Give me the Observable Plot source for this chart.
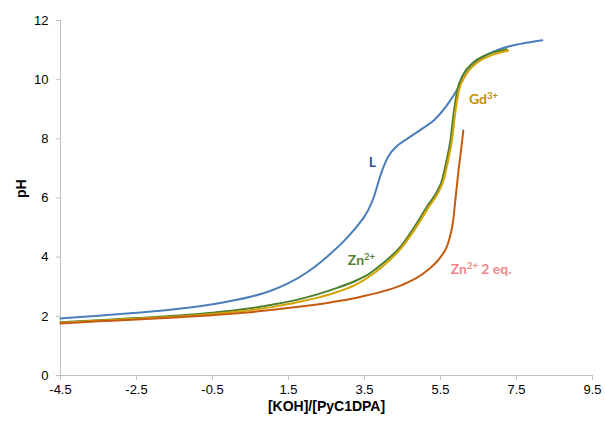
<!DOCTYPE html>
<html>
<head>
<meta charset="utf-8">
<script src="https://cdn.jsdelivr.net/npm/d3@7"></script>
<script src="https://cdn.jsdelivr.net/npm/@observablehq/plot@0.6"></script>
<style>
  html, body { margin: 0; padding: 0; background: #fff; }
</style>
</head>
<body>
<div id="chart"></div>
<script>
// ---- Data ----
const xL  = [-4.5,-3.5,-2.5,-1.5,-0.5,0.5,1.0,1.5,2.0,2.5,3.0,3.4,3.5,3.6,3.75,3.88,4.0,4.15,4.35,4.62,5.0,5.32,5.76,6.03,6.2,6.55,7.08,7.61,8.18];
const yL  = [1.93,2.02,2.12,2.24,2.41,2.66,2.85,3.12,3.5,4.0,4.6,5.2,5.38,5.6,6.05,6.6,7.05,7.45,7.75,8.0,8.33,8.62,9.30,9.86,10.25,10.7,11.04,11.21,11.33];

const xZn = [-4.5,-3.5,-2.5,-1.5,-0.5,0.5,1.1,1.82,2.3,2.8,3.3,3.6,3.99,4.45,4.9,5.15,5.41,5.54,5.66,5.76,5.84,5.94,6.11,6.37,6.73,7.24];
const yZn = [1.80,1.87,1.94,2.02,2.12,2.27,2.4,2.59,2.76,2.97,3.22,3.42,3.8,4.36,5.2,5.72,6.22,6.6,7.27,7.94,8.8,9.63,10.2,10.59,10.85,11.03];

const xGd = [-4.5,-3.5,-2.5,-1.5,-0.5,0.5,1.1,1.82,2.3,2.8,3.3,3.6,3.99,4.45,4.93,5.19,5.45,5.58,5.7,5.8,5.88,5.98,6.15,6.41,6.77,7.28];
const yGd = [1.78,1.85,1.92,1.99,2.08,2.21,2.32,2.5,2.64,2.83,3.09,3.32,3.7,4.28,5.15,5.7,6.2,6.6,7.27,7.94,8.8,9.6,10.13,10.52,10.79,10.98];

const xZn2 = [-4.5,-3.5,-2.5,-1.5,-0.5,0.5,1.1,1.82,2.6,3.2,3.57,4.05,4.45,4.85,5.15,5.5,5.68,5.78,5.84,5.88,5.93,5.98,6.04,6.1];
const yZn2 = [1.76,1.83,1.89,1.96,2.04,2.14,2.22,2.33,2.47,2.6,2.71,2.87,3.04,3.28,3.55,4.0,4.4,4.85,5.3,5.8,6.4,7.0,7.6,8.28];

const xTicks = [-4.5,-2.5,-0.5,1.5,3.5,5.5,7.5,9.5];
const yTicks = [0,2,4,6,8,10,12];

const seriesNames  = ["L","Zn2","Gd","Zn2x2"];
const seriesColors = ["#4A7EBB","#4E7F2E","#D4A300","#C55A11"];

const labelBase  = ["L","Gd","Zn","Zn"];
const labelSup   = ["","3+","2+","2+"];
const labelTail  = ["","",""," 2 eq."];
const labelX     = [3.71,6.63,3.42,6.57];
const labelY     = [7.2,9.33,3.89,3.58];
const labelColor = ["#2F5597","#BF9000","#538135","#F4868C"];

// ---- Build tables ----
const toRows = (name, xs, ys) => xs.map((x, i) => ({series: name, x, y: ys[i]}));
const rows = [
  ...toRows("L", xL, yL),
  ...toRows("Zn2", xZn, yZn),
  ...toRows("Gd", xGd, yGd),
  ...toRows("Zn2x2", xZn2, yZn2)
];
const labels = labelBase.map((b, i) => ({t: b + labelSup[i] + labelTail[i], b, s: labelSup[i], tail: labelTail[i], x: labelX[i], y: labelY[i], c: labelColor[i]}));

const chart = Plot.plot({
  width: 605,
  height: 421,
  marginLeft: 60,
  marginRight: 13,
  marginTop: 20,
  marginBottom: 46,
  style: {fontFamily: "'Liberation Sans', Arial, sans-serif", fontSize: "13px", background: "#fff", color: "#000"},
  x: {domain: [-4.5, 9.5]},
  y: {domain: [0, 12]},
  color: {domain: seriesNames, range: seriesColors},
  marks: [
    Plot.ruleX([-4.5], {stroke: "#bfbfbf", strokeWidth: 1}),
    Plot.ruleY([0], {stroke: "#bfbfbf", strokeWidth: 1}),
    Plot.axisX({ticks: xTicks, tickSize: 5, tickPadding: 4, stroke: "#bfbfbf", fill: "#000", tickFormat: d => String(d), label: null}),
    Plot.axisY({ticks: yTicks, tickSize: 4, tickPadding: 8, stroke: "#bfbfbf", fill: "#000", tickFormat: d => String(d), label: null}),
    Plot.line(rows, {x: "x", y: "y", z: "series", stroke: "series", strokeWidth: 2, curve: "monotone-x"}),
    Plot.text(labels, {x: "x", y: "y", text: "t", fill: "c", fontWeight: "bold", fontSize: 14, textAnchor: "middle", fontFamily: "Lato, 'Noto Sans', sans-serif"}),
    Plot.text(["[KOH]/[PyC1DPA]"], {frameAnchor: "bottom", dy: 35, fontWeight: "bold", fontSize: 14}),
    Plot.text(["pH"], {frameAnchor: "left", dx: -39, rotate: -90, fontWeight: "bold", fontSize: 14})
  ]
});

// Rewrite labels with real superscript tspans
const svgNS = "http://www.w3.org/2000/svg";
d3.select(chart).selectAll("text").each(function() {
  const el = this;
  const idx = labels.findIndex(l => l.s && el.textContent === l.t);
  if (idx < 0) return;
  const l = labels[idx];
  while (el.firstChild) el.removeChild(el.firstChild);
  const t1 = document.createElementNS(svgNS, "tspan"); t1.textContent = l.b; el.appendChild(t1);
  const t2 = document.createElementNS(svgNS, "tspan"); t2.textContent = l.s;
  t2.setAttribute("font-size", "9.5"); t2.setAttribute("dy", "-5"); el.appendChild(t2);
  if (l.tail) {
    const t3 = document.createElementNS(svgNS, "tspan"); t3.textContent = l.tail;
    t3.setAttribute("dy", "5"); el.appendChild(t3);
  }
});
document.getElementById("chart").appendChild(chart);
</script>
</body>
</html>
